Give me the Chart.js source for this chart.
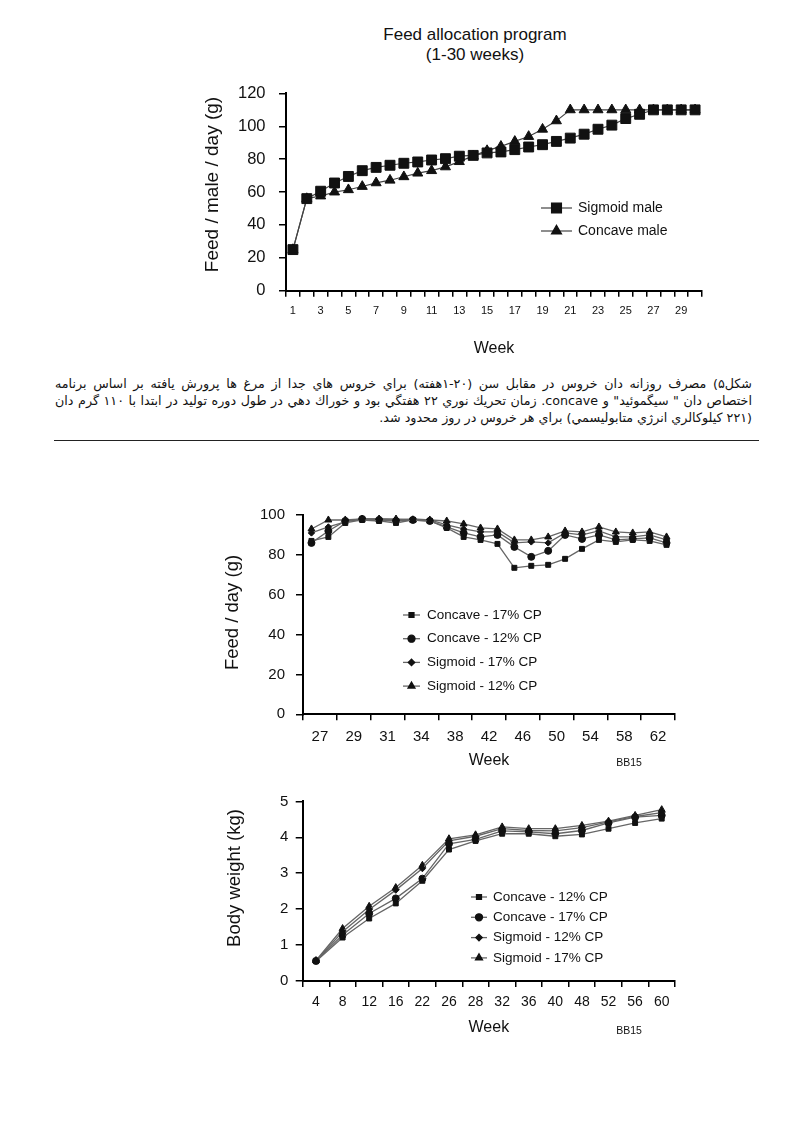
<!DOCTYPE html>
<html>
<head>
<meta charset="utf-8">
<script src="https://cdn.jsdelivr.net/npm/chart.js@4.4.1/dist/chart.umd.min.js"></script>
<style>
  body { margin: 0; background: #fff; width: 794px; height: 1123px; position: relative;
         font-family: "Liberation Sans", Arial, sans-serif; color: #111; }
  .abs { position: absolute; }
  canvas { position: absolute; }
  #title { left: 275px; top: 25px; width: 400px; text-align: center; font-size: 17px; line-height: 20px; }
  #caption { left: 55px; top: 375px; width: 697px; direction: rtl; font-family: "DejaVu Sans", sans-serif;
             font-size: 12.7px; line-height: 17px; }
  #caption .full { text-align: justify; text-align-last: justify; white-space: nowrap; }
  #caption .last { text-align: right; white-space: nowrap; }
  #rule { left: 54px; top: 440px; width: 705px; height: 0; border-top: 1.5px solid #222; }
  .bb { font-size: 10.5px; width: 40px; text-align: center; }
</style>
</head>
<body>
<div id="title" class="abs">Feed allocation program<br>(1-30 weeks)</div>
<canvas id="chart1" width="530" height="300" style="left:190px;top:70px"></canvas>

<div id="caption" class="abs">
  <div class="full">شکل۵) مصرف روزانه دان خروس در مقابل سن (۲۰-۱هفته) براي خروس هاي جدا از مرغ ها پرورش يافته بر اساس برنامه</div>
  <div class="full">اختصاص دان " سيگموئيد" و concave. زمان تحريك نوري ۲۲ هفتگي بود و خوراك دهي در طول دوره توليد در ابتدا با ۱۱۰ گرم دان</div>
  <div class="last">(۲۲۱ كيلوكالري انرژي متابوليسمي) براي هر خروس در روز محدود شد.</div>
</div>
<div id="rule" class="abs"></div>

<canvas id="chart2" width="470" height="285" style="left:220px;top:495px"></canvas>
<div class="abs bb" style="left:609px;top:756px">BB15</div>

<canvas id="chart3" width="470" height="260" style="left:220px;top:785px"></canvas>
<div class="abs bb" style="left:609px;top:1024px">BB15</div>

<script>
// ---- chart 1: feed allocation, weeks 1-30
const weeks1 = ["1","2","3","4","5","6","7","8","9","10","11","12","13","14","15",
                "16","17","18","19","20","21","22","23","24","25","26","27","28","29","30"];
const sigmoidMale = [25, 56, 60.5, 65.5, 69.5, 73, 75, 76.3, 77.5, 78.3, 79.5, 80.3, 81.8, 82.3, 83.8,
                     84.4, 85.8, 87.4, 88.8, 90.8, 92.8, 95.2, 98.2, 100.7, 104.7, 107.3, 110, 110, 110, 110];
const concaveMale = [25, 56, 57.6, 60, 61.4, 63.4, 65.6, 67.2, 69.3, 71.5, 73, 75.3, 78.5, 82, 85.2,
                     87.8, 90.8, 93.8, 98.2, 103.3, 110, 110, 110, 110, 110, 110, 110, 110, 110, 110];

// ---- chart 2: feed / day, weeks 26-63 (22 points, labels every second point)
const weekLabels2 = ["27","29","31","34","38","42","46","50","54","58","62"];
const feedConcave17 = [87, 89, 96, 97.5, 97, 96, 97.5, 97, 93.5, 89, 87.5, 85.5, 73.5, 74.5, 75, 78, 83, 87.5, 86.5, 87.5, 87, 85];
const feedConcave12 = [86, 92, 97, 98, 97.5, 97, 97.5, 97, 94, 91, 89, 90, 84, 79, 82, 90, 88, 90, 87.5, 88, 88.5, 86];
const feedSigmoid17 = [91, 94, 96.5, 98, 98, 97.5, 98, 97.5, 95, 93, 91.5, 91.5, 86, 86.5, 86, 91, 90, 92, 89, 89, 90, 87.5];
const feedSigmoid12 = [93, 97.5, 97.5, 98, 98, 98, 97.5, 97.5, 97, 95.5, 93.5, 93, 87.5, 87.5, 89, 92, 91.5, 94, 91.5, 91, 91.5, 89];

// ---- chart 3: body weight
const weekLabels3 = ["4","8","12","16","22","26","28","32","36","40","48","52","56","60"];
const bwConcave12 = [0.55, 1.21, 1.74, 2.16, 2.79, 3.66, 3.9, 4.1, 4.1, 4.03, 4.08, 4.24, 4.4, 4.52];
const bwConcave17 = [0.56, 1.28, 1.88, 2.3, 2.85, 3.82, 3.94, 4.18, 4.15, 4.1, 4.19, 4.4, 4.56, 4.61];
const bwSigmoid12 = [0.56, 1.37, 1.99, 2.53, 3.13, 3.9, 4.03, 4.24, 4.19, 4.18, 4.27, 4.43, 4.58, 4.69];
const bwSigmoid17 = [0.57, 1.46, 2.08, 2.6, 3.22, 3.96, 4.07, 4.29, 4.24, 4.24, 4.33, 4.45, 4.61, 4.77];

const FONT = '"Liberation Sans", Arial, sans-serif';
const INK = "#111";

// points sit in the middle of their slot on the x axis
const pts = (arr) => arr.map((v, i) => ({ x: i + 0.5, y: v }));

// legend drawn as a short line with the marker in the middle
const lineLegend = {
  id: "lineLegend",
  afterDatasetsDraw(chart, args, opts) {
    const ctx = chart.ctx;
    ctx.save();
    ctx.font = opts.font;
    ctx.textBaseline = "middle";
    chart.data.datasets.forEach((ds, i) => {
      const y = opts.y + i * opts.gap;
      ctx.strokeStyle = ds.borderColor;
      ctx.lineWidth = ds.borderWidth;
      ctx.beginPath();
      ctx.moveTo(opts.x, y);
      ctx.lineTo(opts.x + opts.len, y);
      ctx.stroke();
      ctx.fillStyle = ds.pointBackgroundColor;
      ctx.strokeStyle = ds.pointBorderColor;
      Chart.helpers.drawPoint(ctx, { pointStyle: ds.pointStyle, radius: ds.pointRadius, borderWidth: 1, rotation: 0 },
        opts.x + opts.len / 2, y);
      ctx.fillStyle = INK;
      ctx.fillText(ds.label, opts.x + opts.len + opts.textGap, y);
    });
    ctx.restore();
  }
};

// rotated y axis title
const sideTitle = {
  id: "sideTitle",
  afterDraw(chart, args, opts) {
    const ctx = chart.ctx;
    ctx.save();
    ctx.translate(opts.x, opts.y);
    ctx.rotate(-Math.PI / 2);
    ctx.font = opts.font;
    ctx.fillStyle = INK;
    ctx.textAlign = "center";
    ctx.textBaseline = "middle";
    ctx.fillText(opts.text, 0, 0);
    ctx.restore();
  }
};

function series(label, data, style, radius, lineColor, lineWidth) {
  return {
    label,
    data: pts(data),
    borderColor: lineColor,
    borderWidth: lineWidth,
    pointStyle: style,
    pointRadius: radius,
    pointBackgroundColor: INK,
    pointBorderColor: INK,
    pointBorderWidth: 1,
    tension: 0,
  };
}

function makeChart(id, c) {
  const xTicks = c.xTicks;
  return new Chart(document.getElementById(id), {
    type: "line",
    data: { datasets: c.datasets },
    plugins: [lineLegend, sideTitle],
    options: {
      responsive: false,
      animation: false,
      devicePixelRatio: 1,
      layout: { padding: { top: c.padTop, right: c.padRight, left: 0, bottom: 0 } },
      plugins: {
        legend: { display: false },
        tooltip: { enabled: false },
        lineLegend: c.legend,
        sideTitle: c.yTitle,
      },
      scales: {
        x: {
          type: "linear",
          min: 0,
          max: c.xMax,
          afterBuildTicks: (s) => { s.ticks = xTicks.map((t) => ({ value: t.value })); },
          afterFit: (s) => { s.height = c.xHeight; },
          border: { color: "#000", width: 2 },
          grid: {
            drawOnChartArea: false,
            tickLength: 6,
            lineWidth: 1.5,
            color: (ctx) => (xTicks[ctx.index] && xTicks[ctx.index].mark ? "#000" : "rgba(0,0,0,0)"),
          },
          ticks: {
            autoSkip: false,
            maxRotation: 0,
            minRotation: 0,
            padding: c.xTickPad,
            color: INK,
            font: { family: FONT, size: c.xTickSize },
            callback: (v, i) => (xTicks[i] ? xTicks[i].label : ""),
          },
          title: {
            display: true,
            text: "Week",
            color: INK,
            font: { family: FONT, size: 16 },
            padding: { top: 0, bottom: c.xTitlePad },
          },
        },
        y: {
          min: 0,
          max: c.yMax,
          afterFit: (s) => { s.width = c.yWidth; },
          border: { color: "#000", width: 2 },
          grid: { drawOnChartArea: false, tickLength: 7, lineWidth: 1.5, color: "#000" },
          ticks: {
            stepSize: c.yStep,
            padding: c.yTickPad,
            color: INK,
            font: { family: FONT, size: c.yTickSize },
          },
        },
      },
    },
  });
}

// tick lists: marks on slot edges, labels on slot centres
const ticks1 = [];
for (let k = 0; k <= 60; k++) {
  const v = k / 2;
  const mid = k % 2 === 1;
  const slot = Math.floor(v);
  ticks1.push({ value: v, mark: !mid, label: mid && slot % 2 === 0 ? weeks1[slot] : "" });
}
const ticks2 = [];
for (let k = 0; k <= 22; k++) {
  ticks2.push({ value: k, mark: k % 2 === 0, label: k % 2 === 1 ? weekLabels2[(k - 1) / 2] : "" });
}
const ticks3 = [];
for (let k = 0; k <= 28; k++) {
  const v = k / 2;
  const mid = k % 2 === 1;
  ticks3.push({ value: v, mark: !mid, label: mid ? weekLabels3[Math.floor(v)] : "" });
}

makeChart("chart1", {
  datasets: [
    series("Sigmoid male", sigmoidMale, "rect", 7, "#444", 1.2),
    series("Concave male", concaveMale, "triangle", 5.8, "#444", 1.2),
  ],
  xTicks: ticks1, xMax: 30,
  yMax: 120, yStep: 20,
  yWidth: 96, xHeight: 79.3, padTop: 19.3, padRight: 18,
  xTickSize: 11, xTickPad: 7.4, yTickSize: 16.5, yTickPad: 13.5, xTitlePad: 11.4,
  legend: { x: 351, y: 138, gap: 23, len: 31, textGap: 6, font: "14px " + FONT },
  yTitle: { text: "Feed / male / day (g)", x: 23, y: 114.5, font: "19px " + FONT },
});

makeChart("chart2", {
  datasets: [
    series("Concave - 17% CP", feedConcave17, "rect", 3.5, "#666", 1.3),
    series("Concave - 12% CP", feedConcave12, "circle", 3.5, "#666", 1.3),
    series("Sigmoid - 17% CP", feedSigmoid17, "rectRot", 3.2, "#666", 1.3),
    series("Sigmoid - 12% CP", feedSigmoid12, "triangle", 4, "#666", 1.3),
  ],
  xTicks: ticks2, xMax: 22,
  yMax: 100, yStep: 20,
  yWidth: 83, xHeight: 65.7, padTop: 20, padRight: 15,
  xTickSize: 15, xTickPad: 7.7, yTickSize: 15, yTickPad: 11, xTitlePad: 9.4,
  legend: { x: 183, y: 120, gap: 23.7, len: 17, textGap: 7, font: "13.5px " + FONT },
  yTitle: { text: "Feed / day (g)", x: 13, y: 117.5, font: "18.5px " + FONT },
});

makeChart("chart3", {
  datasets: [
    series("Concave - 12% CP", bwConcave12, "rect", 3.5, "#666", 1.3),
    series("Concave - 17% CP", bwConcave17, "circle", 3.5, "#666", 1.3),
    series("Sigmoid - 12% CP", bwSigmoid12, "rectRot", 3.2, "#666", 1.3),
    series("Sigmoid - 17% CP", bwSigmoid17, "triangle", 4, "#666", 1.3),
  ],
  xTicks: ticks3, xMax: 14,
  yMax: 5, yStep: 1,
  yWidth: 82.7, xHeight: 64, padTop: 16, padRight: 15,
  xTickSize: 14, xTickPad: 6.6, yTickSize: 15, yTickPad: 7.4, xTitlePad: 7.4,
  legend: { x: 251, y: 112, gap: 20.3, len: 16, textGap: 6, font: "13.5px " + FONT },
  yTitle: { text: "Body weight (kg)", x: 15, y: 93, font: "18.5px " + FONT },
});
</script>
</body>
</html>
